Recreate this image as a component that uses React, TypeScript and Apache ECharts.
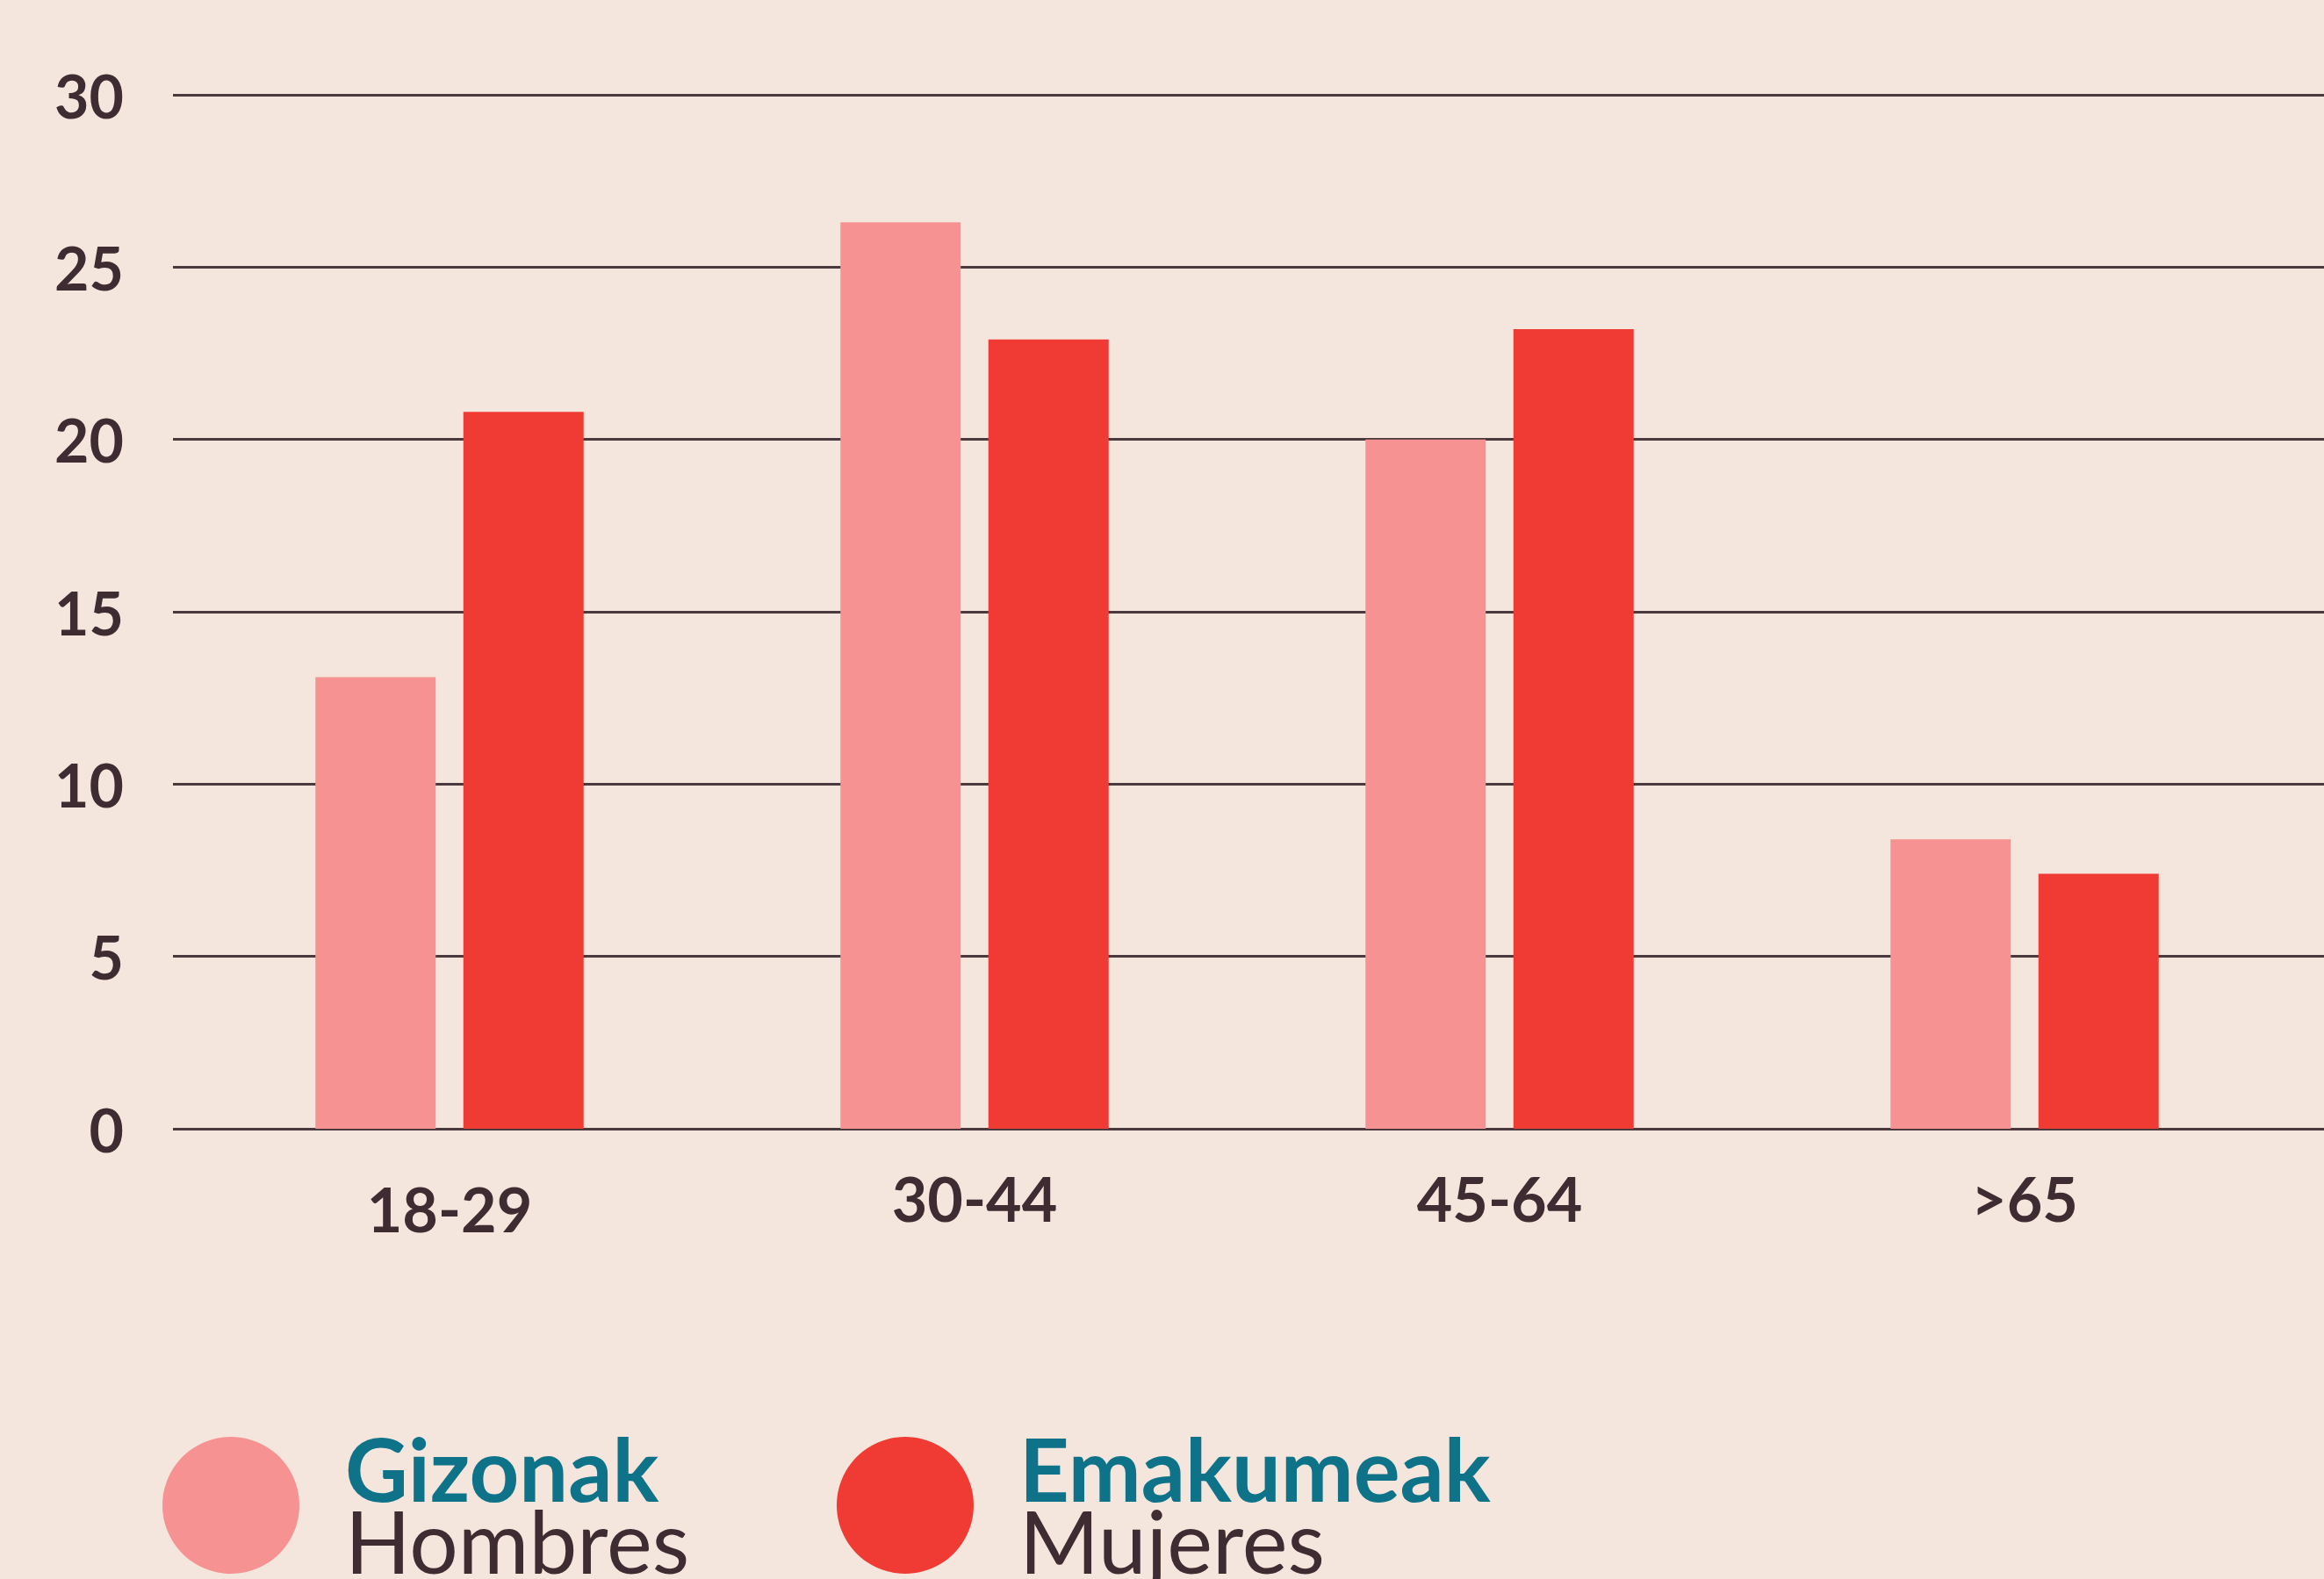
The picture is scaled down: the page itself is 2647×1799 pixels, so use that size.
import React, { useEffect, useRef } from "react";
import * as echarts from "echarts";

const categories = ["18-29", "30-44", "45-64", ">65"];
const hombres = [13.1, 26.3, 20.0, 8.4];
const mujeres = [20.8, 22.9, 23.2, 7.4];
const yTicks = { min: 0, max: 30, interval: 5 };
const legendItems = [
  { eu: "Gizonak", es: "Hombres", color: "#F69392" },
  { eu: "Emakumeak", es: "Mujeres", color: "#EF3B33" },
];

const BG = "#F5E6DD";
const DARK = "#3E2C32";
const TEAL = "#0E7389";
const FONT = "Lato, 'Noto Sans', sans-serif";

export default function App() {
  const ref = useRef<HTMLDivElement>(null);
  useEffect(() => {
    if (!ref.current) return;
    const chart = echarts.init(ref.current, undefined, { renderer: "svg" });
    const legendX = [263, 1031];
    const graphic: any[] = [];
    legendItems.forEach((it, i) => {
      graphic.push({
        type: "circle",
        shape: { cx: legendX[i], cy: 1715, r: 78 },
        style: { fill: it.color },
      });
      graphic.push({
        type: "text",
        x: legendX[i] + 130,
        y: 1672,
        style: {
          text: it.eu,
          fill: TEAL,
          font: `bold 99px ${FONT}`,
          lineHeight: 80,
          verticalAlign: "middle",
          align: "left",
        },
      });
      graphic.push({
        type: "text",
        x: legendX[i] + 130,
        y: 1755,
        style: {
          text: it.es,
          fill: DARK,
          font: `normal 98px ${FONT}`,
          lineHeight: 80,
          verticalAlign: "middle",
          align: "left",
        },
      });
    });

    chart.setOption({
      animation: false,
      backgroundColor: BG,
      textStyle: { fontFamily: FONT },
      grid: [
        { left: 197, right: 0, top: 108, bottom: 513 },
        { left: 213, right: 42, top: 108, bottom: 513 },
      ],
      xAxis: [
        { type: "value", gridIndex: 0, min: 0, max: 1, show: false },
        {
          type: "category",
          gridIndex: 1,
          data: categories.map((c, i) =>
            i === 0 ? { value: c, textStyle: { padding: [12, 0, 0, 0] } } : c
          ),
          axisLine: { show: false },
          axisTick: { show: false },
          axisLabel: {
            color: DARK,
            fontSize: 70,
            fontWeight: "bold",
            fontFamily: FONT,
            margin: 44,
          },
        },
      ],
      yAxis: [
        {
          type: "value",
          gridIndex: 0,
          min: yTicks.min,
          max: yTicks.max,
          interval: yTicks.interval,
          axisLine: { show: false },
          axisTick: { show: false },
          axisLabel: {
            color: DARK,
            fontSize: 68,
            fontWeight: "bold",
            fontFamily: FONT,
            margin: 56,
          },
          splitLine: { lineStyle: { color: "#4A3A3E", width: 3 } },
        },
        {
          type: "value",
          gridIndex: 1,
          min: yTicks.min,
          max: yTicks.max,
          interval: yTicks.interval,
          show: false,
          splitLine: { show: false },
        },
      ],
      series: [
        {
          name: "Hombres",
          type: "bar",
          xAxisIndex: 1,
          yAxisIndex: 1,
          data: hombres,
          barWidth: 137,
          barGap: "23%",
          itemStyle: { color: "#F69392" },
        },
        {
          name: "Mujeres",
          type: "bar",
          xAxisIndex: 1,
          yAxisIndex: 1,
          data: mujeres,
          barWidth: 137,
          barGap: "23%",
          itemStyle: { color: "#EF3B33" },
        },
      ],
      graphic,
    });
    return () => chart.dispose();
  }, []);
  return (
    <div
      ref={ref}
      style={{ position: "absolute", left: 0, top: 0, width: 2647, height: 1799 }}
    />
  );
}
